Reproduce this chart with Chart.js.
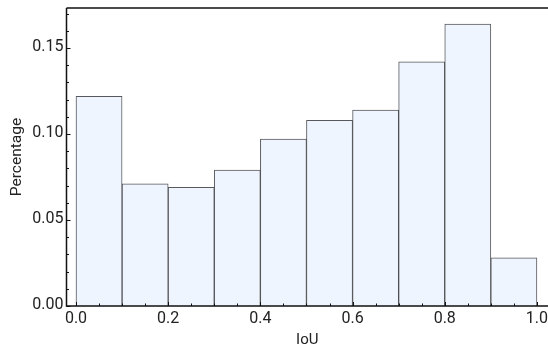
<!DOCTYPE html>
<html>
<head>
<meta charset="utf-8">
<script src="https://cdn.jsdelivr.net/npm/chart.js@4/dist/chart.umd.min.js"></script>
<style>
  html, body { margin: 0; padding: 0; background: #fff; overflow: hidden; }
  #wrap { width: 548px; height: 347px; }
</style>
</head>
<body>
<div id="wrap"><canvas id="chart"></canvas></div>
<script>
// histogram bins (centres) and their share
const binCenters = [0.05, 0.15, 0.25, 0.35, 0.45, 0.55, 0.65, 0.75, 0.85, 0.95];
const percentages = [0.122, 0.071, 0.069, 0.079, 0.097, 0.108, 0.114, 0.142, 0.164, 0.028];
const xTicks = [0.0, 0.2, 0.4, 0.6, 0.8, 1.0];
const yTicks = [0.00, 0.05, 0.10, 0.15];

const FONT = 'Roboto, "Liberation Sans", sans-serif';
const INK = '#222';

const range = (a, b, step) => {
  const out = [];
  for (let v = a; v <= b + 1e-9; v += step) out.push(Math.round(v * 1000) / 1000);
  return out;
};
const isMajor = (v, list) => list.some(t => Math.abs(t - v) < 1e-6);

// inward ticks + frame lines
const frame = {
  id: 'frame',
  afterDraw(chart) {
    const { ctx, chartArea: a, scales: { x, y } } = chart;
    ctx.save();
    ctx.strokeStyle = '#111';
    ctx.lineWidth = 1;
    range(0, 1.0, 0.05).forEach(v => {
      const px = Math.round(x.getPixelForValue(v)) + 0.5;
      const len = isMajor(v, xTicks) ? 4 : 2.5;
      ctx.beginPath();
      ctx.moveTo(px, a.bottom);
      ctx.lineTo(px, a.bottom - len);
      ctx.stroke();
    });
    range(0, 0.17, 0.01).forEach(v => {
      const py = Math.round(y.getPixelForValue(v)) + 0.5;
      const len = isMajor(v, yTicks) ? 4 : 2.5;
      ctx.beginPath();
      ctx.moveTo(a.left, py);
      ctx.lineTo(a.left + len, py);
      ctx.stroke();
    });
    ctx.lineWidth = 1.5;
    ctx.beginPath();
    ctx.moveTo(a.left, a.top);
    ctx.lineTo(a.right, a.top);
    ctx.moveTo(a.left, a.top);
    ctx.lineTo(a.left, a.bottom);
    ctx.lineTo(a.right, a.bottom);
    ctx.stroke();
    ctx.restore();
  }
};

new Chart(document.getElementById('chart'), {
  type: 'bar',
  data: {
    datasets: [{
      data: binCenters.map((c, i) => ({ x: c, y: percentages[i] })),
      backgroundColor: '#eef5fe',
      borderColor: 'rgba(60,60,65,0.85)',
      borderWidth: 1,
      barPercentage: 1,
      categoryPercentage: 1
    }]
  },
  options: {
    responsive: true,
    maintainAspectRatio: false,
    animation: false,
    layout: { padding: { top: 8, left: 0, right: 0, bottom: 0 } },
    plugins: { legend: { display: false }, tooltip: { enabled: false } },
    scales: {
      x: {
        type: 'linear',
        offset: false,
        min: -0.0206,
        max: 1.024,
        grid: { display: false, drawTicks: false },
        border: { display: false },
        afterBuildTicks: s => { s.ticks = xTicks.map(v => ({ value: v })); },
        afterFit: s => { s.height = 41; s.paddingLeft = 0; s.paddingRight = 0; },
        ticks: {
          autoSkip: false,
          maxRotation: 0,
          padding: 3,
          color: INK,
          font: { family: FONT, size: 16 },
          callback: v => v.toFixed(1)
        },
        title: {
          display: true,
          text: 'IoU',
          color: INK,
          font: { family: FONT, size: 15 },
          padding: { top: 5, bottom: -2 }
        }
      },
      y: {
        min: 0,
        max: 0.1733,
        grid: { display: false, drawTicks: false },
        border: { display: false },
        afterBuildTicks: s => { s.ticks = yTicks.map(v => ({ value: v })); },
        afterFit: s => { s.width = 66.5; s.paddingTop = 0; s.paddingBottom = 0; },
        ticks: {
          padding: 3,
          labelOffset: -1,
          color: INK,
          font: { family: FONT, size: 16 },
          callback: v => v.toFixed(2)
        },
        title: {
          display: true,
          text: 'Percentage',
          color: INK,
          font: { family: FONT, size: 15.5 },
          padding: { top: 8, bottom: 0 }
        }
      }
    }
  },
  plugins: [frame]
});
</script>
</body>
</html>
